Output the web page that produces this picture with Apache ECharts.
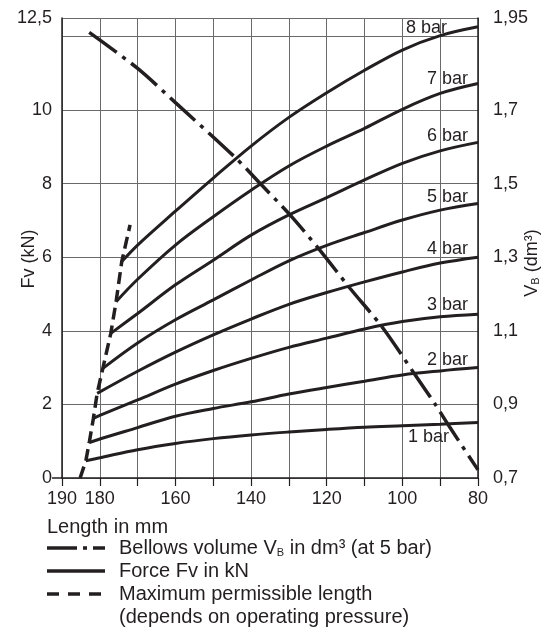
<!DOCTYPE html>
<html><head><meta charset="utf-8">
<script src="https://cdn.jsdelivr.net/npm/echarts@6/dist/echarts.min.js"></script>
<style>html,body{margin:0;padding:0;background:#fff}#c{width:548px;height:630px}</style>
</head><body><div id="c"></div>
<script>
// ---- data (length in mm, force Fv in kN) ----
const pressureNames = ['1 bar','2 bar','3 bar','4 bar','5 bar','6 bar','7 bar','8 bar'];
const len1bar = [183.7,180,170,160,150,140,130,120,110,100,90,80];
const fv1bar  = [0.47,0.55,0.77,0.94,1.07,1.17,1.25,1.32,1.38,1.42,1.46,1.51];
const len2bar = [182.8,180,170,160,150,140,130,120,110,100,90,80];
const fv2bar  = [0.96,1.06,1.37,1.68,1.89,2.07,2.28,2.46,2.63,2.80,2.91,3.00];
const len3bar = [181.7,180,170,160,150,140,130,120,110,100,90,80];
const fv3bar  = [1.62,1.70,2.12,2.55,2.92,3.25,3.55,3.80,4.05,4.25,4.38,4.45];
const len4bar = [180.7,170,160,150,140,130,120,110,100,90,80];
const fv4bar  = [2.30,2.90,3.42,3.89,4.32,4.72,5.04,5.33,5.60,5.84,6.00];
const len5bar = [179.2,170,160,150,140,130,120,110,100,90,80];
const fv5bar  = [2.98,3.67,4.30,4.84,5.38,5.90,6.32,6.67,7.01,7.28,7.46];
const len6bar = [177.1,170,160,150,140,130,120,110,100,90,80];
const fv6bar  = [3.93,4.47,5.25,5.92,6.60,7.15,7.62,8.10,8.55,8.89,9.12];
const len7bar = [175.7,170,160,150,140,130,120,110,100,90,80];
const fv7bar  = [4.79,5.40,6.33,7.10,7.82,8.48,9.02,9.50,10.02,10.45,10.72];
const len8bar = [174.2,170,160,150,140,130,120,110,100,90,80];
const fv8bar  = [5.88,6.33,7.25,8.15,9.02,9.80,10.47,11.08,11.63,12.02,12.26];

// bellows volume VB in dm3 (at 5 bar)
const volLen = [182.8,170,160,144,137.2,129.7,122.2,113.8,105.4,96.6,91.3,87.4,80];
const volVB  = [1.911,1.813,1.720,1.569,1.496,1.415,1.324,1.215,1.111,0.980,0.900,0.837,0.722];

// maximum permissible length
const limLen = [185.2,183.7,182.8,181.7,180.7,179.2,177.1,175.7,174.2,172.0];
const limFv  = [0,0.47,0.96,1.62,2.30,2.98,3.93,4.79,5.88,6.88];

// tick labels
const xLabelValues = [190,180,160,140,120,100,80];
const leftLabels  = {0:'0',2:'2',4:'4',6:'6',8:'8',10:'10',12.5:'12,5'};
const rightLabels = ['0,7','0,9','1,1','1,3','1,5','1,7','1,95'];

// ---- build ----
const INK = '#231f20';
const FONT = "'Liberation Sans', Arial, sans-serif";
const lens = [len1bar,len2bar,len3bar,len4bar,len5bar,len6bar,len7bar,len8bar];
const fvs  = [fv1bar,fv2bar,fv3bar,fv4bar,fv5bar,fv6bar,fv7bar,fv8bar];
// label placement (style only)
const labelOffsets = [[-24,15],[-5,-8],[-5,-9],[-5,-8],[-5,-6],[-5,-6],[-5,-4],[-26,1]];

const forceSeries = pressureNames.map((name,i)=>{
  const data = lens[i].map((l,j)=>[l,fvs[i][j]]);
  const last = data.length-1;
  data[last] = {value:data[last], label:{show:true, formatter:name, position:'left',
    offset:labelOffsets[i], fontSize:18, fontFamily:FONT, color:INK}};
  return {name, type:'line', data, smooth:0.35, symbol:'circle', symbolSize:0, showSymbol:true,
    silent:true, itemStyle:{color:INK}, lineStyle:{color:INK, width:3}, z:3};
});

function rightFmt(v){
  if (Math.abs(v-1.9)<1e-6) return '';
  const vals=[0.7,0.9,1.1,1.3,1.5,1.7,1.95];
  for (let k=0;k<vals.length;k++) if (Math.abs(v-vals[k])<1e-6) return rightLabels[k];
  return '';
}

const chart = echarts.init(document.getElementById('c'), null, {renderer:'canvas'});
chart.setOption({
  animation:false,
  backgroundColor:'#fff',
  textStyle:{fontFamily:FONT},
  grid:{left:62, right:70, top:18, bottom:152, containLabel:false, outerBoundsMode:'none'},
  xAxis:{type:'value', min:80, max:190, interval:10, inverse:true,
    axisLine:{show:true, lineStyle:{color:INK, width:1.5}},
    axisTick:{show:true, length:8, lineStyle:{color:INK, width:1.2}},
    axisLabel:{margin:12, fontSize:18, color:INK, fontFamily:FONT, showMinLabel:true, showMaxLabel:true,
      formatter:v=> xLabelValues.indexOf(v)>=0 ? String(v) : ''},
    splitLine:{show:true, lineStyle:{color:'#6a6a6a', width:1}}
  },
  yAxis:[
    {type:'value', min:0, max:12.5, interval:2, position:'left',
      axisLine:{show:true, lineStyle:{color:INK, width:1.5}},
      axisTick:{show:false},
      axisLabel:{margin:10, fontSize:18, color:INK, fontFamily:FONT, showMinLabel:true, showMaxLabel:true,
        formatter:v=> leftLabels[v]!==undefined ? leftLabels[v] : ''},
      splitLine:{show:true, lineStyle:{color:'#6a6a6a', width:1}}
    },
    {type:'value', min:0.7, max:1.95, interval:0.2, position:'right',
      axisLine:{show:true, lineStyle:{color:INK, width:1.5}},
      axisTick:{show:false},
      axisLabel:{margin:15, fontSize:18, color:INK, fontFamily:FONT, showMinLabel:true, showMaxLabel:true,
        formatter:rightFmt},
      splitLine:{show:false}
    }
  ],
  series:[
    ...forceSeries,
    {name:'Maximum permissible length', type:'line', data:limLen.map((l,j)=>[l,limFv[j]]),
      symbol:'none', silent:true, lineStyle:{color:INK, width:3.5, type:[12,6]}, z:4},
    {name:'Bellows volume', type:'line', yAxisIndex:1, data:volLen.map((l,j)=>[l,volVB[j]]),
      smooth:0.3, symbol:'none', silent:true, lineStyle:{color:INK, width:3.5, type:[34,7,4,7]}, z:5}
  ],
  graphic:[
    {type:'line', shape:{x1:52,y1:478,x2:62,y2:478}, style:{stroke:INK, lineWidth:1.5}},
    {type:'text', x:29, y:259, rotation:Math.PI/2,
      style:{text:'Fv (kN)', fontSize:18, fontFamily:FONT, fill:INK, align:'center', verticalAlign:'middle'}},
    {type:'text', x:532, y:263, rotation:Math.PI/2,
      style:{text:'V{sub|B} (dm³)', fontSize:18, fontFamily:FONT, fill:INK, align:'center', verticalAlign:'middle',
        rich:{sub:{fontSize:11, fill:INK, fontFamily:FONT, verticalAlign:'bottom', padding:[7,0,0,0]}}}},
    {type:'text', x:47, y:527, style:{text:'Length in mm', fontSize:20, fontFamily:FONT, fill:INK, verticalAlign:'middle'}},
    {type:'line', shape:{x1:47,y1:548,x2:105,y2:548}, style:{stroke:INK, lineWidth:3.5, lineDash:[30,6,4,6]}},
    {type:'text', x:119, y:548, style:{text:'Bellows volume V{sub|B} in dm³ (at 5 bar)', fontSize:20, fontFamily:FONT, fill:INK, verticalAlign:'middle',
      rich:{sub:{fontSize:11, fill:INK, fontFamily:FONT, verticalAlign:'bottom', padding:[8,0,0,0]}}}},
    {type:'line', shape:{x1:47,y1:571,x2:105,y2:571}, style:{stroke:INK, lineWidth:3.5}},
    {type:'text', x:119, y:571, style:{text:'Force Fv in kN', fontSize:20, fontFamily:FONT, fill:INK, verticalAlign:'middle'}},
    {type:'line', shape:{x1:47,y1:594,x2:101,y2:594}, style:{stroke:INK, lineWidth:3.5, lineDash:[12,9]}},
    {type:'text', x:119, y:594, style:{text:'Maximum permissible length', fontSize:20, fontFamily:FONT, fill:INK, verticalAlign:'middle'}},
    {type:'text', x:119, y:617, style:{text:'(depends on operating pressure)', fontSize:20, fontFamily:FONT, fill:INK, verticalAlign:'middle'}}
  ]
});
</script>
</body></html>
